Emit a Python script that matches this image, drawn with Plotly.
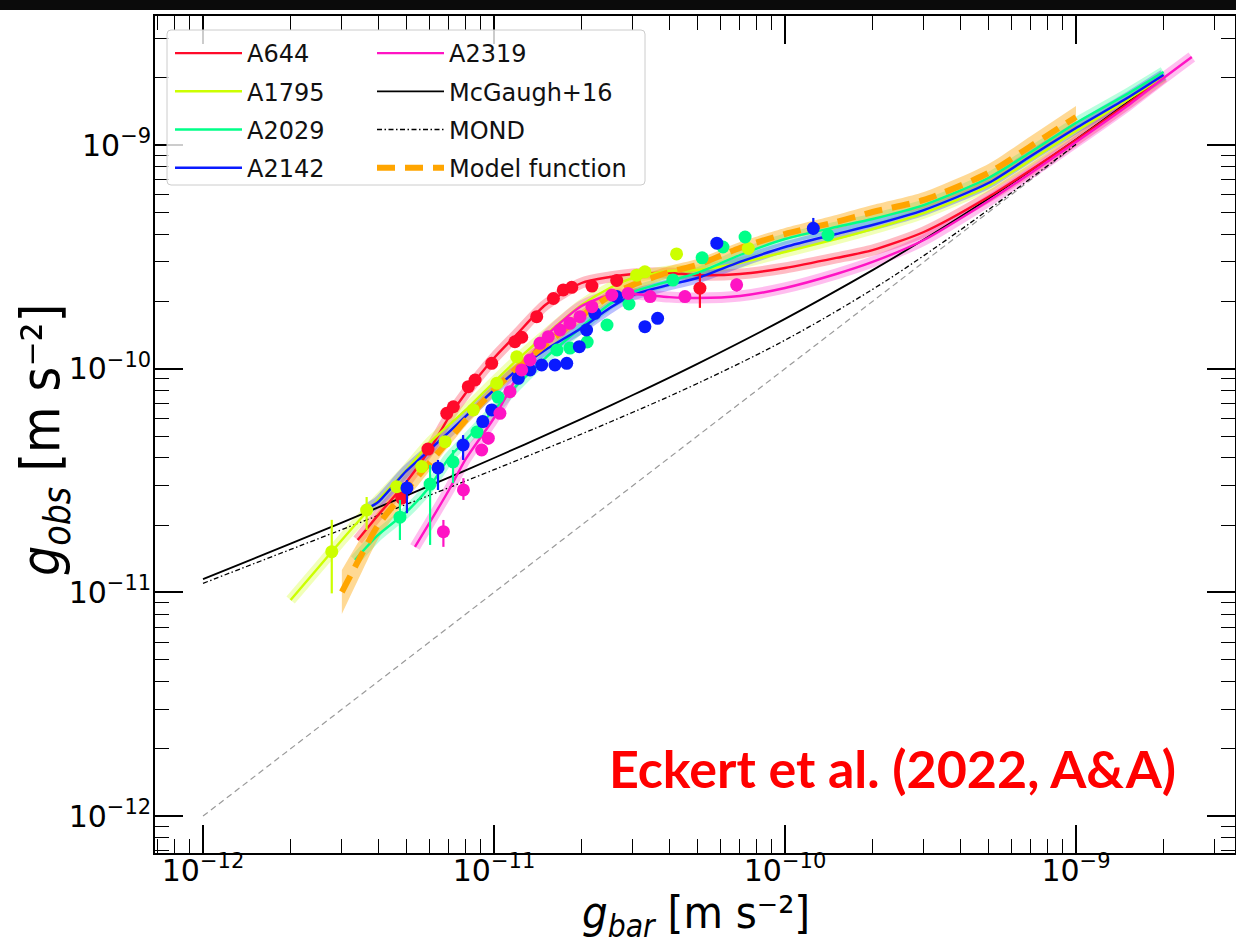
import plotly.graph_objects as go

# ---------------- data ----------------
# cluster colours
COL = {
    "A644": "#ff0a2a",
    "A1795": "#ccff00",
    "A2029": "#00ff88",
    "A2142": "#0a1aff",
    "A2319": "#ff14c4",
}
ORANGE = "#ffa500"

# fitted relations per cluster (g_bar, g_obs) in m s^-2
a644_fit_x = [3.4e-12, 4e-12, 5e-12, 6e-12, 7e-12, 8e-12, 1e-11, 1.2e-11, 1.5e-11, 2e-11, 2.5e-11, 3e-11,
              4e-11, 5e-11, 7e-11, 1e-10, 1.5e-10, 2e-10, 3e-10, 5e-10, 7e-10, 1e-9, 1.5e-9, 2e-9]
a644_fit_y = [1.715e-11, 2.218e-11, 3.115e-11, 4.33e-11, 6.08e-11, 7.79e-11, 1.116e-10, 1.429e-10, 1.926e-10,
              2.416e-10, 2.57e-10, 2.65e-10, 2.68e-10, 2.62e-10, 2.65e-10, 2.82e-10, 3.127e-10, 3.39e-10,
              4.084e-10, 5.855e-10, 7.73e-10, 1.053e-9, 1.525e-9, 2.014e-9]

a1795_fit_x = [2e-12, 2.5e-12, 3e-12, 3.5e-12, 4e-12, 5e-12, 6e-12, 7e-12, 8e-12, 1e-11, 1.2e-11, 1.5e-11,
               2e-11, 2.5e-11, 3e-11, 4e-11, 5e-11, 7e-11, 1e-10, 1.5e-10, 2e-10, 3e-10, 5e-10, 7e-10,
               1e-9, 1.5e-9, 2e-9]
a1795_fit_y = [9.25e-12, 1.299e-11, 1.715e-11, 2.15e-11, 2.59e-11, 3.525e-11, 4.655e-11, 5.60e-11, 6.54e-11,
               8.72e-11, 1.094e-10, 1.414e-10, 1.926e-10, 2.295e-10, 2.544e-10, 2.733e-10, 2.762e-10,
               2.97e-10, 3.324e-10, 3.80e-10, 4.21e-10, 4.966e-10, 6.56e-10, 8.57e-10, 1.155e-9,
               1.589e-9, 2.034e-9]

a2029_fit_x = [3.33e-12, 4e-12, 5e-12, 6e-12, 7e-12, 8e-12, 1e-11, 1.2e-11, 1.5e-11, 2e-11, 2.5e-11, 3e-11,
               4e-11, 5e-11, 7e-11, 1e-10, 1.5e-10, 2e-10, 3e-10, 5e-10, 7e-10, 1e-9, 1.5e-9, 2e-9]
a2029_fit_y = [1.396e-11, 1.806e-11, 2.288e-11, 2.96e-11, 3.99e-11, 4.80e-11, 6.54e-11, 8.45e-11, 1.116e-10,
               1.536e-10, 1.946e-10, 2.203e-10, 2.465e-10, 2.68e-10, 3.223e-10, 3.80e-10, 4.30e-10,
               4.67e-10, 5.39e-10, 7.12e-10, 9.30e-10, 1.254e-9, 1.690e-9, 2.12e-9]

a2142_fit_x = [3.7e-12, 4e-12, 5e-12, 6e-12, 7e-12, 8e-12, 1e-11, 1.2e-11, 1.5e-11, 2e-11, 2.5e-11, 3e-11,
               4e-11, 5e-11, 7e-11, 1e-10, 1.5e-10, 2e-10, 3e-10, 5e-10, 7e-10, 1e-9, 1.5e-9, 2e-9]
a2142_fit_y = [2.384e-11, 2.536e-11, 3.49e-11, 4.33e-11, 5.21e-11, 6.14e-11, 8.03e-11, 9.87e-11, 1.212e-10,
               1.52e-10, 1.868e-10, 2.135e-10, 2.37e-10, 2.544e-10, 3.0e-10, 3.50e-10, 4.0e-10, 4.39e-10,
               5.12e-10, 6.76e-10, 8.93e-10, 1.191e-9, 1.622e-9, 2.056e-9]

a2319_fit_x = [5.35e-12, 6e-12, 7e-12, 8e-12, 1e-11, 1.2e-11, 1.5e-11, 2e-11, 2.5e-11, 3e-11, 4e-11, 5e-11,
               7e-11, 1e-10, 1.5e-10, 2e-10, 3e-10, 5e-10, 7e-10, 1e-9, 1.5e-9, 2e-9, 2.5e-9]
a2319_fit_y = [1.596e-11, 2.043e-11, 2.87e-11, 3.95e-11, 6.02e-11, 9.18e-11, 1.386e-10, 1.906e-10, 2.135e-10,
               2.158e-10, 2.09e-10, 2.07e-10, 2.113e-10, 2.295e-10, 2.65e-10, 3.0e-10, 3.76e-10, 5.62e-10,
               7.50e-10, 1.031e-9, 1.494e-9, 1.993e-9, 2.474e-9]

# model function with its uncertainty envelope
model_x = [3e-12, 3.5e-12, 4e-12, 5e-12, 6e-12, 7e-12, 8e-12, 1e-11, 1.2e-11, 1.5e-11, 2e-11, 2.5e-11,
           3e-11, 4e-11, 5e-11, 7e-11, 1e-10, 1.5e-10, 2e-10, 3e-10, 5e-10, 7e-10, 1e-9]
model_y = [1.004e-11, 1.47e-11, 2.001e-11, 2.87e-11, 3.79e-11, 4.80e-11, 5.90e-11, 8.03e-11, 1.007e-10,
           1.276e-10, 1.72e-10, 2.113e-10, 2.37e-10, 2.705e-10, 2.91e-10, 3.464e-10, 4.0e-10, 4.53e-10,
           5.017e-10, 5.68e-10, 7.50e-10, 9.90e-10, 1.334e-9]
model_hi = [1.259e-11, 1.769e-11, 2.31e-11, 3.18e-11, 4.11e-11, 5.11e-11, 6.27e-11, 8.54e-11, 1.072e-10,
            1.358e-10, 1.83e-10, 2.25e-10, 2.518e-10, 2.88e-10, 3.093e-10, 3.685e-10, 4.256e-10, 4.866e-10,
            5.39e-10, 6.165e-10, 8.22e-10, 1.097e-9, 1.494e-9]
model_lo = [8.01e-12, 1.221e-11, 1.732e-11, 2.59e-11, 3.49e-11, 4.51e-11, 5.55e-11, 7.55e-11, 9.47e-11,
            1.2e-10, 1.618e-10, 1.987e-10, 2.225e-10, 2.544e-10, 2.733e-10, 3.256e-10, 3.76e-10, 4.21e-10,
            4.67e-10, 5.23e-10, 6.83e-10, 8.93e-10, 1.191e-9]

# reference relations
mcgaugh_x = [1e-12, 2e-12, 3e-12, 5e-12, 1e-11, 2e-11, 3e-11, 5e-11, 1e-10, 2e-10, 3e-10, 5e-10, 1e-9, 2e-9]
mcgaugh_y = [1.146e-11, 1.651e-11, 2.052e-11, 2.708e-11, 3.987e-11, 5.967e-11, 7.624e-11, 1.0513e-10,
             1.6706e-10, 2.7586e-10, 3.777e-10, 5.746e-10, 1.059e-9, 2.0343e-9]
mond_x = [1e-12, 2e-12, 3e-12, 5e-12, 1e-11, 2e-11, 3e-11, 5e-11, 1e-10, 2e-10, 3e-10, 5e-10, 1e-9]
mond_y = [1.0977e-11, 1.5557e-11, 1.9093e-11, 2.475e-11, 3.537e-11, 5.107e-11, 6.386e-11, 8.59e-11,
          1.3416e-10, 2.2637e-10, 3.2036e-10, 5.135e-10, 1.0071e-9]
unity_x = [1e-12, 1e-9]
unity_y = [1e-12, 1e-9]

# measured accelerations per cluster
a644_x = [4.82e-12, 5.93e-12, 6.88e-12, 7.25e-12, 8.16e-12, 8.61e-12, 9.82e-12, 1.18e-11, 1.245e-11,
          1.402e-11, 1.60e-11, 1.73e-11, 1.85e-11, 2.17e-11, 2.64e-11, 5.10e-11]
a644_y = [2.64e-11, 4.37e-11, 6.32e-11, 6.76e-11, 8.31e-11, 8.90e-11, 1.057e-10, 1.32e-10, 1.382e-10,
          1.708e-10, 2.06e-10, 2.25e-10, 2.31e-10, 2.34e-10, 2.48e-10, 2.29e-10]
a644_ep = [1.5e-12, 2e-12, 3e-12, 3e-12, 4e-12, 4e-12, 5e-12, 6e-12, 6e-12, 8e-12, 1e-11, 1e-11, 1e-11,
           1.2e-11, 1.5e-11, 3.9e-11]
a644_em = [1.5e-12, 2e-12, 3e-12, 3e-12, 4e-12, 4e-12, 5e-12, 6e-12, 6e-12, 8e-12, 1e-11, 1e-11, 1e-11,
           1.2e-11, 1.5e-11, 4.2e-11]

a1795_x = [2.77e-12, 3.65e-12, 4.63e-12, 5.64e-12, 6.79e-12, 8.49e-12, 1.022e-11, 1.197e-11, 3.09e-11,
           3.30e-11, 4.24e-11, 7.48e-11]
a1795_y = [1.52e-11, 2.335e-11, 2.97e-11, 3.65e-11, 4.72e-11, 6.54e-11, 8.61e-11, 1.131e-10, 2.62e-10,
           2.71e-10, 3.26e-10, 3.45e-10]
a1795_ep = [5.9e-12, 3.35e-12, 1.5e-12, 2e-12, 2.5e-12, 3e-12, 4e-12, 5e-12, 1e-11, 1e-11, 1.2e-11, 1.3e-11]
a1795_em = [5.3e-12, 4.35e-12, 1.5e-12, 2e-12, 2.5e-12, 3e-12, 4e-12, 5e-12, 1e-11, 1e-11, 1.2e-11, 1.3e-11]

a2029_x = [4.75e-12, 6.03e-12, 7.23e-12, 8.74e-12, 1.032e-11, 1.646e-11, 1.824e-11, 2.09e-11, 2.445e-11,
           2.91e-11, 4.12e-11, 5.19e-11, 6.12e-11, 7.29e-11, 1.405e-10]
a2029_y = [2.17e-11, 3.05e-11, 3.83e-11, 5.21e-11, 7.47e-11, 1.212e-10, 1.237e-10, 1.316e-10, 1.568e-10,
           1.946e-10, 2.49e-10, 3.13e-10, 3.50e-10, 3.88e-10, 3.96e-10]
a2029_ep = [4.2e-12, 6.6e-12, 5e-12, 3e-12, 4e-12, 6e-12, 6e-12, 6e-12, 7e-12, 8e-12, 1e-11, 1.2e-11,
            1.3e-11, 1.4e-11, 1.5e-11]
a2029_em = [4.55e-12, 1.42e-11, 7.5e-12, 3e-12, 4e-12, 6e-12, 6e-12, 6e-12, 7e-12, 8e-12, 1e-11, 1.2e-11,
            1.3e-11, 1.4e-11, 1.5e-11]

a2142_x = [5.02e-12, 6.42e-12, 7.83e-12, 9.15e-12, 9.82e-12, 1.212e-11, 1.33e-11, 1.458e-11, 1.62e-11,
           1.778e-11, 1.964e-11, 2.08e-11, 2.22e-11, 2.64e-11, 3.30e-11, 3.65e-11, 5.83e-11, 1.251e-10]
a2142_y = [2.93e-11, 3.60e-11, 4.56e-11, 5.80e-11, 6.54e-11, 9.06e-11, 9.87e-11, 1.039e-10, 1.039e-10,
           1.057e-10, 1.254e-10, 1.489e-10, 1.769e-10, 2.10e-10, 1.541e-10, 1.68e-10, 3.64e-10, 4.24e-10]
a2142_ep = [2.5e-12, 3.1e-12, 4.9e-12, 3e-12, 3e-12, 4e-12, 4e-12, 5e-12, 5e-12, 5e-12, 6e-12, 7e-12,
            8e-12, 9e-12, 7e-12, 8e-12, 1.4e-11, 4.8e-11]
a2142_em = [6.7e-12, 7.3e-12, 6.5e-12, 3e-12, 3e-12, 4e-12, 4e-12, 5e-12, 5e-12, 5e-12, 6e-12, 7e-12,
            8e-12, 9e-12, 7e-12, 8e-12, 1.4e-11, 2.8e-11]

a2319_x = [6.70e-12, 7.85e-12, 9.07e-12, 9.56e-12, 1.048e-11, 1.135e-11, 1.245e-11, 1.33e-11, 1.439e-11,
           1.537e-11, 1.686e-11, 1.824e-11, 1.975e-11, 2.17e-11, 2.54e-11, 2.89e-11, 3.44e-11, 4.53e-11,
           6.82e-11]
a2319_y = [1.868e-11, 2.87e-11, 4.33e-11, 4.89e-11, 6.32e-11, 7.89e-11, 9.87e-11, 1.094e-10, 1.299e-10,
           1.39e-10, 1.489e-10, 1.596e-10, 1.708e-10, 1.893e-10, 2.135e-10, 2.17e-10, 2.10e-10, 2.10e-10,
           2.37e-10]
a2319_ep = [2.4e-12, 3.7e-12, 2.5e-12, 3e-12, 3e-12, 4e-12, 4e-12, 5e-12, 5e-12, 5e-12, 6e-12, 6e-12,
            6e-12, 7e-12, 8e-12, 8e-12, 8e-12, 9e-12, 1.6e-11]
a2319_em = [2.7e-12, 2.8e-12, 2.5e-12, 3e-12, 3e-12, 4e-12, 4e-12, 5e-12, 5e-12, 5e-12, 6e-12, 6e-12,
            6e-12, 7e-12, 8e-12, 8e-12, 8e-12, 9e-12, 1.6e-11]

fits = [
    ("A644", a644_fit_x, a644_fit_y),
    ("A1795", a1795_fit_x, a1795_fit_y),
    ("A2029", a2029_fit_x, a2029_fit_y),
    ("A2142", a2142_fit_x, a2142_fit_y),
    ("A2319", a2319_fit_x, a2319_fit_y),
]
points = [
    ("A644", a644_x, a644_y, a644_ep, a644_em),
    ("A1795", a1795_x, a1795_y, a1795_ep, a1795_em),
    ("A2029", a2029_x, a2029_y, a2029_ep, a2029_em),
    ("A2142", a2142_x, a2142_y, a2142_ep, a2142_em),
    ("A2319", a2319_x, a2319_y, a2319_ep, a2319_em),
]

SMOOTH = 0.7


def rgba(hex_col, a):
    h = hex_col.lstrip("#")
    r, g, b = int(h[0:2], 16), int(h[2:4], 16), int(h[4:6], 16)
    return f"rgba({r},{g},{b},{a})"


fig = go.Figure()

# 1:1 line
fig.add_trace(go.Scatter(x=unity_x, y=unity_y, mode="lines", showlegend=False,
                         line=dict(color="#9a9a9a", width=1.2, dash="6px,4px")))

# translucent envelopes around each cluster fit
for name, fx, fy in fits:
    fig.add_trace(go.Scatter(x=fx, y=fy, mode="lines", showlegend=False, hoverinfo="skip",
                             line=dict(color=rgba(COL[name], 0.28), width=11, shape="spline",
                                       smoothing=SMOOTH)))

# model envelope
fig.add_trace(go.Scatter(x=model_x, y=model_hi, mode="lines", showlegend=False, hoverinfo="skip",
                         line=dict(width=0, shape="spline", smoothing=SMOOTH)))
fig.add_trace(go.Scatter(x=model_x, y=model_lo, mode="lines", showlegend=False, hoverinfo="skip",
                         fill="tonexty", fillcolor="rgba(255,165,0,0.42)",
                         line=dict(width=0, shape="spline", smoothing=SMOOTH)))

# reference relations
fig.add_trace(go.Scatter(x=mond_x, y=mond_y, mode="lines", name="MOND", legend="legend2",
                         legendgroup="mond",
                         line=dict(color="black", width=1.3, dash="5px,2.5px,1.5px,2.5px", shape="spline")))
fig.add_trace(go.Scatter(x=mcgaugh_x, y=mcgaugh_y, mode="lines", name="McGaugh+16", legend="legend2",
                         legendgroup="mcg",
                         line=dict(color="black", width=1.8, shape="spline")))

# cluster fits
for name, fx, fy in fits:
    fig.add_trace(go.Scatter(x=fx, y=fy, mode="lines", name=name,
                             legend="legend2" if name == "A2319" else "legend",
                             legendgroup=name,
                             line=dict(color=COL[name], width=2.4, shape="spline", smoothing=SMOOTH)))

# model function
fig.add_trace(go.Scatter(x=model_x, y=model_y, mode="lines", name="Model function", legend="legend2",
                         legendgroup="model",
                         line=dict(color=ORANGE, width=6, dash="18px,10px", shape="spline",
                                   smoothing=SMOOTH)))

# data points
for name, px, py, ep, em in points:
    fig.add_trace(go.Scatter(x=px, y=py, mode="markers", showlegend=False,
                             marker=dict(color=COL[name], size=13, line=dict(width=0)),
                             error_y=dict(type="data", array=ep, arrayminus=em, symmetric=False,
                                          color=COL[name], thickness=2.2, width=0)))

# legend order
order = {"A644": 1, "A1795": 2, "A2029": 3, "A2142": 4,
         "A2319": 1, "McGaugh+16": 2, "MOND": 3, "Model function": 4}
for tr in fig.data:
    if tr.name in order:
        tr.legendrank = order[tr.name]

L, R, T, B = 155, 1235, 16, 853
W, H = 1236, 946
pw, ph = R - L, B - T


def px_x(p):
    return (p - L) / pw


def px_y(p):
    return (B - p) / ph


axis_common = dict(
    type="log", dtick=1, exponentformat="power", showexponent="all",
    showline=True, linecolor="black", linewidth=2, mirror="allticks",
    ticks="inside", ticklen=28, tickwidth=1.6, tickcolor="black",
    showgrid=False, zeroline=False,
    tickfont=dict(family="DejaVu Sans", size=24, color="black"),
    minor=dict(ticks="inside", ticklen=14, tickwidth=1.4, tickcolor="black", dtick="D1", showgrid=False),
)

# legend frame with rounded corners
x0, x1 = px_x(167), px_x(645)
y0, y1 = px_y(185), px_y(30)
rx, ry = 4 / pw, 4 / ph
frame = (f"M {x0+rx},{y1} L {x1-rx},{y1} Q {x1},{y1} {x1},{y1-ry} L {x1},{y0+ry} "
         f"Q {x1},{y0} {x1-rx},{y0} L {x0+rx},{y0} Q {x0},{y0} {x0},{y0+ry} "
         f"L {x0},{y1-ry} Q {x0},{y1} {x0+rx},{y1} Z")

legend_font = dict(family="DejaVu Sans", size=24, color="#111111")
title_family = "DejaVu Sans Condensed, DejaVu Sans"

fig.update_layout(
    width=W, height=H,
    margin=dict(l=L, r=W - R, t=T, b=H - B, autoexpand=False),
    paper_bgcolor="white", plot_bgcolor="white",
    xaxis=dict(range=[-12.165, -8.4536], ticklabelstandoff=-9, **axis_common),
    yaxis=dict(range=[-12.165, -8.4233], ticklabelstandoff=-3, **axis_common),
    legend=dict(x=px_x(170), y=px_y(31), xanchor="left", yanchor="top", bgcolor="rgba(0,0,0,0)",
                borderwidth=0, font=legend_font, tracegroupgap=4, itemwidth=67),
    legend2=dict(x=px_x(372), y=px_y(31), xanchor="left", yanchor="top", bgcolor="rgba(0,0,0,0)",
                 borderwidth=0, font=legend_font, tracegroupgap=4, itemwidth=67),
    shapes=[
        dict(type="path", xref="paper", yref="paper", path=frame, layer="above",
             fillcolor="rgba(255,255,255,0.8)", line=dict(color="#cccccc", width=1)),
        dict(type="rect", xref="paper", yref="paper", x0=px_x(0), x1=px_x(W), y0=px_y(10), y1=px_y(0),
             fillcolor="#0b0b0b", line=dict(width=0), layer="above"),
    ],
    annotations=[
        dict(text="<i>g</i><sub><i>bar</i></sub> [m s⁻²]", xref="paper", yref="paper",
             x=px_x(696), y=px_y(915), xanchor="center", yanchor="middle", showarrow=False,
             font=dict(family=title_family, size=45, color="black")),
        dict(text="<i>g</i><sub><i>obs</i></sub> [m s⁻²]", xref="paper", yref="paper",
             x=px_x(44), y=px_y(440), xanchor="center", yanchor="middle", showarrow=False, textangle=-90,
             font=dict(family=title_family, size=53, color="black")),
        dict(text="<b>Eckert et al. (2022, A&A)</b>", xref="paper", yref="paper",
             x=px_x(1178), y=px_y(768), xanchor="right", yanchor="middle", showarrow=False,
             font=dict(family="Lato", size=52, color="#ff0000")),
    ],
)

fig.write_html("out.html")
